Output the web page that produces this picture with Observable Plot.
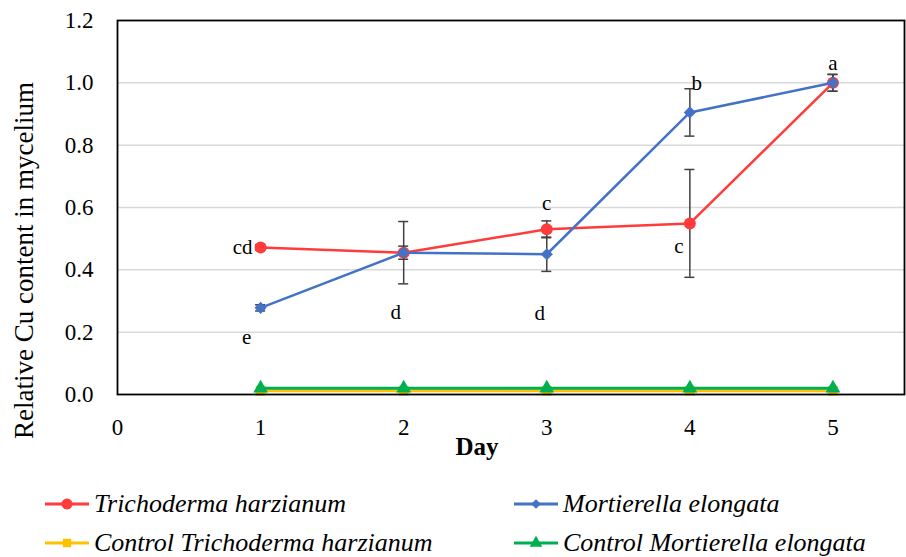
<!DOCTYPE html>
<html><head><meta charset="utf-8">
<style>
body{margin:0;background:#fff;font-family:'Liberation Serif';}
#wrap{position:relative;width:906px;height:557px;overflow:hidden;}
.leg{position:absolute;display:flex;align-items:center;font-family:'Liberation Serif';font-style:italic;font-size:26px;color:#000;white-space:nowrap;line-height:1;}
.leg svg{margin-right:5px;}
</style>
<script src="https://cdn.jsdelivr.net/npm/d3@7"></script>
<script src="https://cdn.jsdelivr.net/npm/@observablehq/plot@0.6"></script>
</head><body>
<div id="wrap"><div id="chart"></div><div id="legend"></div></div>
<script>
// ---- data ----
const days = [1, 2, 3, 4, 5];
const dayTicks = [0, 1, 2, 3, 4, 5];
const yTicks = [0, 0.2, 0.4, 0.6, 0.8, 1.0, 1.2];
const trichoderma = [0.472, 0.455, 0.530, 0.549, 1.000];
const trichodermaErr = [0.008, 0.021, 0.027, 0.173, 0.027];
const mortierella = [0.278, 0.455, 0.450, 0.905, 1.000];
const mortierellaErr = [0.010, 0.100, 0.055, 0.076, 0.027];
const controlTrichoderma = [0.012, 0.012, 0.012, 0.012, 0.012];
const controlMortierella = [0.020, 0.020, 0.020, 0.020, 0.020];
const trichodermaLetters = ["cd", "", "c", "c", "a"];
const mortierellaLetters = ["e", "d", "d", "b", ""];
const seriesNames = ["Trichoderma harzianum", "Mortierella elongata", "Control Trichoderma harzianum", "Control Mortierella elongata"];
const seriesColors = ["#FF3B3B", "#4472C4", "#FFC000", "#00B050"];
const yTitle = "Relative Cu content in mycelium";
const xTitle = "Day";

// ---- build tables ----
const mk = (vals, errs) => days.map((d, i) => ({day: d, v: vals[i], e: errs ? errs[i] : 0}));
const tData = mk(trichoderma, trichodermaErr);
const mData = mk(mortierella, mortierellaErr);
const ctData = mk(controlTrichoderma);
const cmData = mk(controlMortierella);

// letter offsets (style, in px)
const tOff = [[-8, 0, "end"], null, [0, -26, "middle"], [-11, 23, "middle"], [0, -20, "middle"]];
const mOff = [[-14, 29, "middle"], [-8, 60, "middle"], [-7, 59, "middle"], [7, -29, "middle"], null];

const FONT = "Liberation Serif";
const errColor = "#404040";
const errMarks = (data) => [
  Plot.ruleX(data, {x: "day", y1: d => d.v - d.e, y2: d => d.v + d.e, stroke: errColor, strokeWidth: 1.5}),
  Plot.ruleY(data, {y: d => d.v + d.e, x1: "day", x2: "day", insetLeft: -5, insetRight: -5, stroke: errColor, strokeWidth: 1.5}),
  Plot.ruleY(data, {y: d => d.v - d.e, x1: "day", x2: "day", insetLeft: -5, insetRight: -5, stroke: errColor, strokeWidth: 1.5})
];

const letterMarks = [];
function addLetters(data, letters, offs) {
  letters.forEach((t, i) => {
    if (!t) return;
    const [dx, dy, anchor] = offs[i];
    letterMarks.push(Plot.text([data[i]], {x: "day", y: "v", text: () => t, dx, dy, textAnchor: anchor, fontSize: 21, fontFamily: FONT, fill: "#000"}));
  });
}
addLetters(tData, trichodermaLetters, tOff);
addLetters(mData, mortierellaLetters, mOff);

const plot = Plot.plot({
  width: 906,
  height: 480,
  marginLeft: 117,
  marginRight: 2,
  marginTop: 20,
  marginBottom: 86,
  style: {fontFamily: FONT, fontSize: "23px", color: "#000", background: "#fff"},
  x: {domain: [0, 5.5]},
  y: {domain: [0, 1.2]},
  marks: [
    Plot.ruleY(yTicks.filter(v => v > 0 && v < 1.2), {stroke: "#d9d9d9", strokeWidth: 1.5}),
    Plot.axisY(yTicks, {tickSize: 0, tickPadding: 24, tickFormat: d3.format(".1f"), fontSize: 23, fontFamily: FONT, label: null}),
    Plot.axisX(dayTicks, {tickSize: 0, tickPadding: 24, tickFormat: d3.format("d"), fontSize: 23, fontFamily: FONT, label: null}),
    ...errMarks(tData),
    Plot.line(tData, {x: "day", y: "v", stroke: seriesColors[0], strokeWidth: 2.5}),
    Plot.dot(tData, {x: "day", y: "v", r: 6, fill: seriesColors[0], stroke: "none", symbol: "circle"}),
    ...errMarks(mData),
    Plot.line(mData, {x: "day", y: "v", stroke: seriesColors[1], strokeWidth: 2.5}),
    Plot.dot(mData, {x: "day", y: "v", r: 5.5, fill: seriesColors[1], stroke: "none", symbol: "diamond2"}),
    Plot.line(ctData, {x: "day", y: "v", stroke: seriesColors[2], strokeWidth: 3}),
    Plot.dot(ctData, {x: "day", y: "v", r: 5.5, fill: seriesColors[2], stroke: "none", symbol: "square"}),
    Plot.line(cmData, {x: "day", y: "v", stroke: seriesColors[3], strokeWidth: 3}),
    Plot.dot(cmData, {x: "day", y: "v", r: 5.5, fill: seriesColors[3], stroke: "none", symbol: "triangle"}),
    ...letterMarks,
    Plot.frame({stroke: "#000", strokeWidth: 1.8}),
    Plot.text([yTitle], {frameAnchor: "left", textAnchor: "middle", rotate: -90, dx: -93, dy: 53, fontSize: 27, fontFamily: FONT, fill: "#000"}),
    Plot.text([xTitle], {frameAnchor: "bottom", dx: -34, dy: 60, fontSize: 25, fontWeight: "bold", fontFamily: FONT, fill: "#000"})
  ]
});
document.getElementById("chart").appendChild(plot);

// ---- legend ----
const legend = document.getElementById("legend");
const symbolPath = ["circle", "diamond2", "square", "triangle"];
const legPos = [[45, 504], [514, 504], [45, 543], [514, 543]];
const symMap = {circle: d3.symbolCircle, diamond2: d3.symbolDiamond2, square: d3.symbolSquare, triangle: d3.symbolTriangle};
const symSize = [95, 60, 70, 70];
seriesNames.forEach((name, i) => {
  const div = document.createElement("div");
  div.className = "leg";
  div.style.left = legPos[i][0] + "px";
  div.style.top = (legPos[i][1] - 14) + "px";
  div.style.height = "28px";
  const p = d3.symbol(symMap[symbolPath[i]], symSize[i])();
  div.innerHTML = `<svg width="44" height="16" viewBox="0 0 44 16"><line x1="0" x2="44" y1="8" y2="8" stroke="${seriesColors[i]}" stroke-width="3"/><path d="${p}" transform="translate(22,8)" fill="${seriesColors[i]}"/></svg><span>${name}</span>`;
  legend.appendChild(div);
});
</script></body></html>
